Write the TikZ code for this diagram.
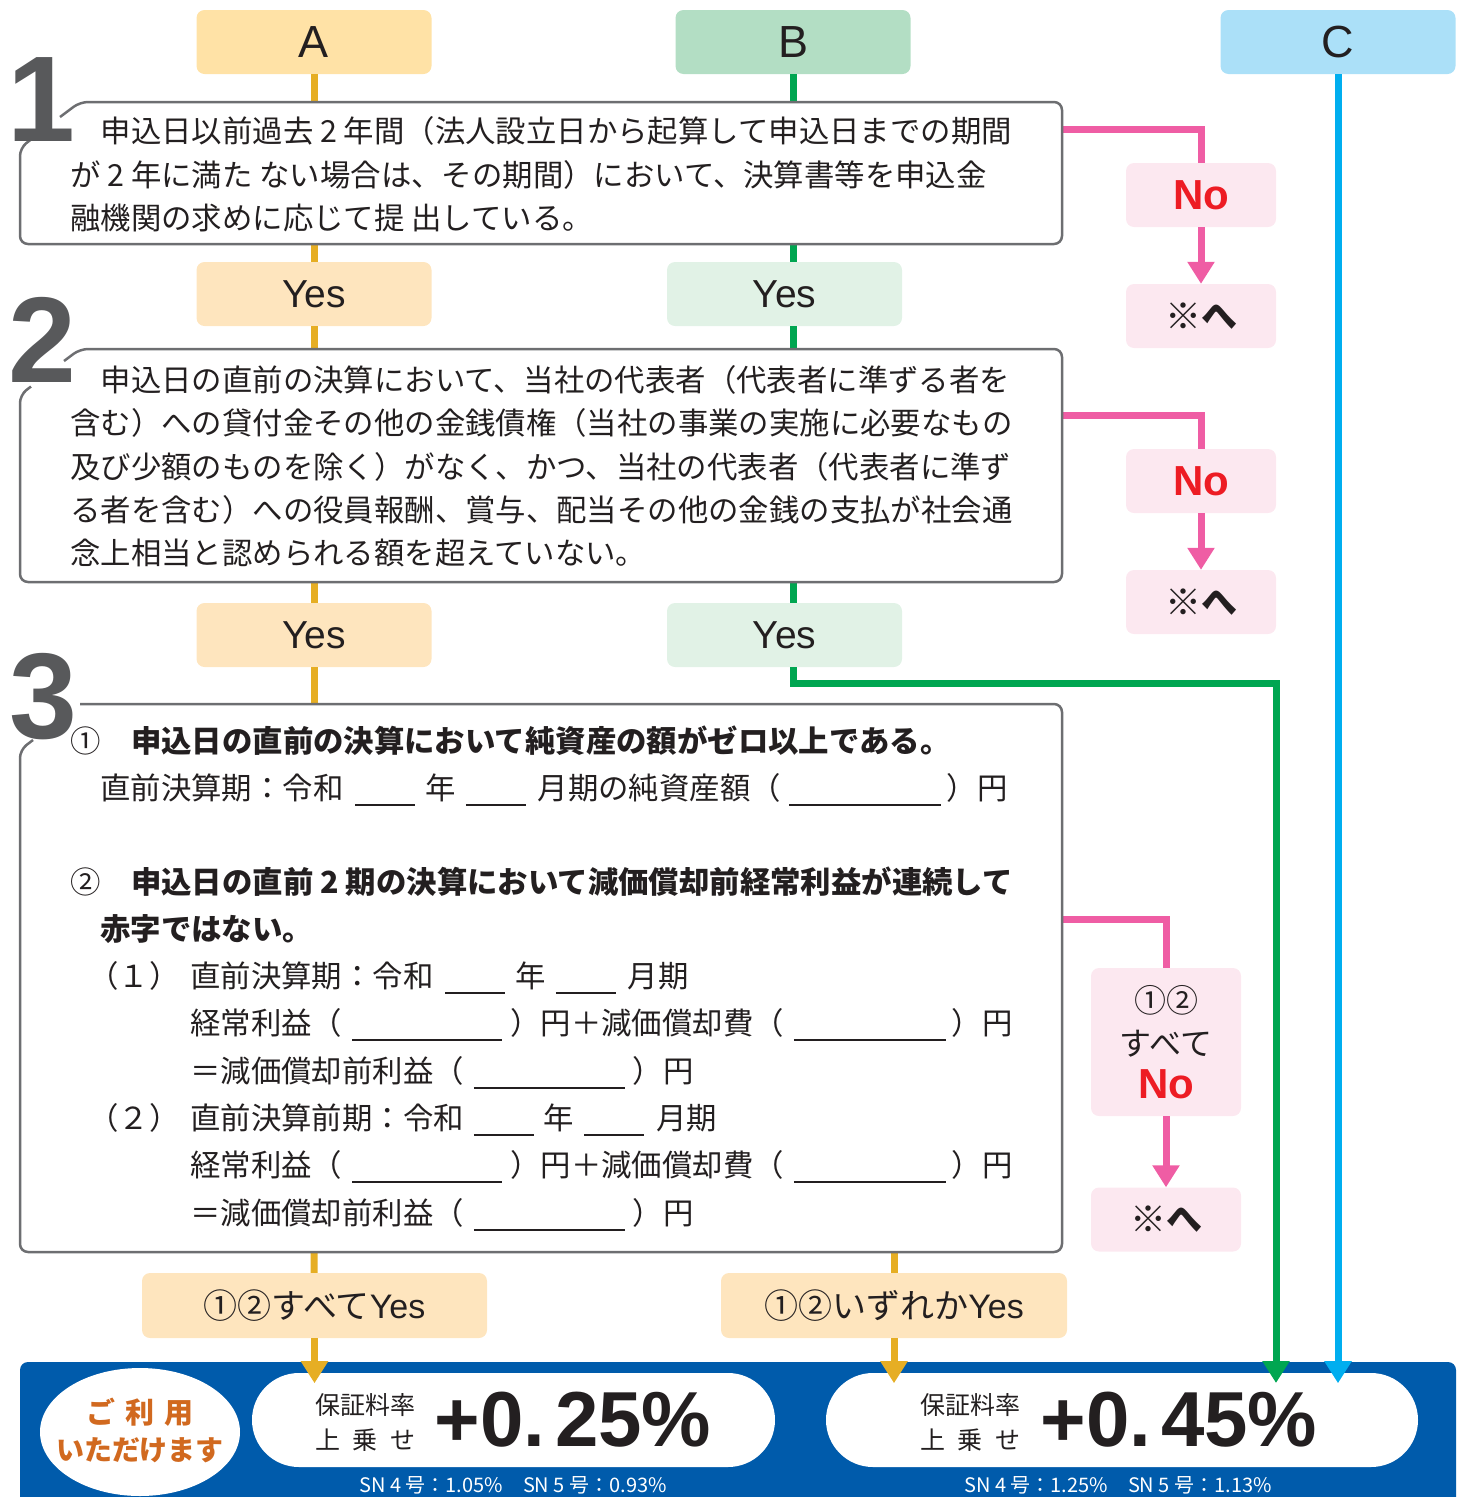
\documentclass[tikz,border=0pt]{standalone}
\usepackage{fontspec}
\setmainfont{Liberation Sans}
\newfontfamily\jp{Noto Sans CJK JP}
\usetikzlibrary{arrows.meta,shapes.geometric}

\definecolor{hdA}{HTML}{FFE2A6}
\definecolor{hdB}{HTML}{B3DEC4}
\definecolor{hdC}{HTML}{ABE0F8}
\definecolor{yesA}{HTML}{FEE5BE}
\definecolor{yesB}{HTML}{E1F2E6}
\definecolor{noBg}{HTML}{FCE8F0}
\definecolor{lnA}{HTML}{E6AE24}
\definecolor{lnB}{HTML}{00A651}
\definecolor{lnC}{HTML}{00AEEF}
\definecolor{lnNo}{HTML}{EF5DA4}
\definecolor{noRed}{HTML}{ED1C24}
\definecolor{bandBlue}{HTML}{005BAB}
\definecolor{numGray}{HTML}{58595B}
\definecolor{boxGray}{HTML}{6D6E71}
\definecolor{txt}{HTML}{231F20}
\definecolor{useOr}{HTML}{D1691F}

\newcommand{\fs}[1]{\fontsize{#1}{#1}\selectfont}
\newcommand{\blank}[1]{\rule[-7pt]{#1}{1.8pt}}

\tikzset{
  hbox/.style={rounded corners=8pt, minimum width=235pt, minimum height=64pt, inner sep=0pt, font=\fs{45}, text=txt},
  ybox/.style={rounded corners=8pt, minimum width=235pt, minimum height=64pt, inner sep=0pt, font=\fs{39}, text=txt},
  nbox/.style={fill=noBg, rounded corners=8pt, minimum width=150pt, minimum height=64pt, inner sep=0pt},
  qarea/.style={inner sep=0pt, minimum width=1042pt},
  qline/.style={draw=boxGray, line width=2.5pt, rounded corners=8pt},
  qtext/.style={anchor=base west, inner sep=0pt, font=\jp\fs{30.4}, text=txt},
  qbold/.style={qtext, font=\jp\bfseries\fs{30.4}},
  bignum/.style={anchor=base, inner sep=0pt, font=\bfseries\fs{122}, text=numGray},
  aline/.style={draw=lnA, line width=7pt},
  gline/.style={draw=lnB, line width=7pt},
  cline/.style={draw=lnC, line width=7pt},
  pline/.style={draw=lnNo, line width=7pt},
  tip/.style={-{Triangle[width=26pt,length=22pt]}},
  capsule/.style={fill=white, rounded corners=47pt, minimum height=94pt, inner sep=0pt},
}

\begin{document}
\begin{tikzpicture}[x=1pt,y=-1pt]
\useasboundingbox (0,0) rectangle (1464,1497);

% bottom band
\fill[bandBlue, rounded corners=8pt] (20,1510) -- (20,1362) -- (1456,1362) -- (1456,1510);
\node[ellipse, fill=white, minimum width=200pt, minimum height=128pt, inner sep=0pt] (use) at (140,1432) {};
\node[font=\jp\bfseries\fs{29}, text=useOr] (useA) at (140,1412) {\makebox[107pt][s]{ご\hfil 利\hfil 用}};
\node[font=\jp\bfseries\fs{28}, text=useOr] (useB) at (140,1450) {いただけます};
\node[capsule, minimum width=523pt] (cap1) at (513.5,1420) {};
\node[capsule, minimum width=592pt] (cap2) at (1122,1420) {};
\node[font=\jp\fs{25}, text=txt] (rate1) at (365,1405) {保証料率};
\node[font=\jp\fs{25}, text=txt] (up1) at (365,1440) {\makebox[100pt][s]{上\hfil 乗\hfil せ}};
\node[font=\bfseries\fs{78}, text=txt] (val1) at (573,1420) {+0.\hspace{10pt}25\%};
\node[font=\jp\fs{25}, text=txt] (rate2) at (970,1405) {保証料率};
\node[font=\jp\fs{25}, text=txt] (up2) at (970,1440) {\makebox[100pt][s]{上\hfil 乗\hfil せ}};
\node[font=\bfseries\fs{78}, text=txt] (val2) at (1179,1420) {+0.\hspace{10pt}45\%};
\node[font=\jp\fs{20}, text=white] (sn1) at (513,1485) {SN 4 号：1.05\%　SN 5 号：0.93\%};
\node[font=\jp\fs{20}, text=white] (sn2) at (1118,1485) {SN 4 号：1.25\%　SN 5 号：1.13\%};

% headers and yes boxes
\node[hbox, fill=hdA] (hA) at (314,42) {A};
\node[hbox, fill=hdB] (hB) at (793,42) {B};
\node[hbox, fill=hdC] (hC) at (1338,42) {C};
\node[ybox, fill=yesA] (yA1) at (314,294) {Yes};
\node[ybox, fill=yesB] (yB1) at (784.5,294) {Yes};
\node[ybox, fill=yesA] (yA2) at (314,635) {Yes};
\node[ybox, fill=yesB] (yB2) at (784.5,635) {Yes};
\node[ybox, fill=yesA, minimum width=345pt, minimum height=65pt, font=\jp\fs{34}] (yAll) at (314.5,1305.5) {①②すべて{\rmfamily Yes}};
\node[ybox, fill=yesA, minimum width=346pt, minimum height=65pt, font=\jp\fs{34}] (yAny) at (894,1305.5) {①②いずれか{\rmfamily Yes}};

% question areas
\node[qarea, minimum height=142pt] (q1) at (541,173) {};
\node[qarea, minimum height=233pt] (q2) at (541,465.5) {};
\node[qarea, minimum height=548pt] (q3) at (541,978) {};

% no boxes
\node[nbox, font=\bfseries\fs{42}, text=noRed] (no1) at (1201,195) {No};
\node[nbox, font=\jp\fs{36}, text=txt] (ref1) at (1201,316) {※{\bfseries へ}};
\node[nbox, font=\bfseries\fs{42}, text=noRed] (no2) at (1201,481) {No};
\node[nbox, font=\jp\fs{36}, text=txt] (ref2) at (1201,602) {※{\bfseries へ}};
\node[nbox, minimum height=148pt, align=center, font=\jp\fontsize{32}{43}\selectfont, text=txt] (no3) at (1166,1042)
  {①②\\すべて\\{\rmfamily\bfseries\color{noRed}\fontsize{42}{43}\selectfont No}};
\node[nbox, font=\jp\fs{36}, text=txt] (ref3) at (1166,1219.5) {※{\bfseries へ}};

% A line
\draw[aline] (hA) -- (hA |- q1.north);
\draw[aline] (hA |- q1.south) -- (yA1);
\draw[aline] (yA1) -- (yA1 |- q2.north);
\draw[aline] (yA1 |- q2.south) -- (yA2);
\draw[aline] (yA2) -- (yA2 |- q3.north);
\draw[aline] (yA2 |- q3.south) -- (yAll);
\draw[aline, tip] (yAll.south) -- ++(0,45);
\draw[aline] (yAny |- q3.south) -- (yAny);
\draw[aline, tip] (yAny.south) -- ++(0,45);

% B line
\coordinate (gturn) at (1276,683);
\draw[gline] (hB) -- (hB |- q1.north);
\draw[gline] (hB |- q1.south) -- (hB |- yB1.north);
\draw[gline] (hB |- yB1.south) -- (hB |- q2.north);
\draw[gline] (hB |- q2.south) -- (hB |- yB2.north);
\draw[gline, tip] (hB |- yB2.south) |- (gturn) -- ++(0,700);

% C line
\draw[cline, tip] (hC.south) -- ++(0,1309);

% No lines
\draw[pline] ([yshift=-28pt]q1.north east) -| (no1);
\draw[pline, tip] (no1) -- (ref1);
\draw[pline] ([yshift=-67pt]q2.north east) -| (no2);
\draw[pline, tip] (no2) -- (ref2);
\draw[pline] ([yshift=-216pt]q3.north east) -| (no3);
\draw[pline, tip] (no3) -- (ref3);

% question outlines
\draw[qline] (60,117) -- (80,102) -- (1062,102) -- (1062,244) -- (20,244) -- (20,148) -- (31,139.5);
\draw[qline] (64,361) -- (80,349) -- (1062,349) -- (1062,582) -- (20,582) -- (20,395) -- (31,386.5);
\draw[qline] (80,704) -- (1062,704) -- (1062,1252) -- (20,1252) -- (20,750) -- (33,740);
\node[bignum] (n1) at (41,141) {1};
\node[bignum] (n2) at (42,382) {2};
\node[bignum] (n3) at (43,738) {3};

% question 1
\node[qtext] (t1a) at (70,142) {　申込日以前過去 2 年間（法人設立日から起算して申込日までの期間};
\node[qtext] (t1b) at (70,186) {が 2 年に満た ない場合は、その期間）において、決算書等を申込金};
\node[qtext] (t1c) at (70,229) {融機関の求めに応じて提 出している。};

% question 2
\node[qtext] (t2a) at (70,391) {　申込日の直前の決算において、当社の代表者（代表者に準ずる者を};
\node[qtext] (t2b) at (70,434) {含む）への貸付金その他の金銭債権（当社の事業の実施に必要なもの};
\node[qtext] (t2c) at (70,478) {及び少額のものを除く）がなく、かつ、当社の代表者（代表者に準ず};
\node[qtext] (t2d) at (70,521) {る者を含む）への役員報酬、賞与、配当その他の金銭の支払が社会通};
\node[qtext] (t2e) at (70,564) {念上相当と認められる額を超えていない。};

% question 3
\node[qbold] (t3a) at (70,752) {{\mdseries ①}　申込日の直前の決算において純資産の額がゼロ以上である。};
\node[qtext] (t3b) at (100,799) {直前決算期：令和\hspace{12pt}\blank{60pt}\hspace{10pt}年\hspace{10pt}\blank{60pt}\hspace{12pt}月期の純資産額（\hspace{8pt}\blank{152pt}\hspace{6pt}）円};
\node[qbold] (t3c) at (70,893) {{\mdseries ②}　申込日の直前 2 期の決算において減価償却前経常利益が連続して};
\node[qbold] (t3d) at (100,940) {赤字ではない。};
\node[qtext] (t3e) at (88,987) {（１）};
\node[qtext] (t3f) at (190,987) {直前決算期：令和\hspace{12pt}\blank{60pt}\hspace{10pt}年\hspace{10pt}\blank{60pt}\hspace{12pt}月期};
\node[qtext] (t3g) at (190,1034) {経常利益（\hspace{10pt}\blank{150pt}\hspace{8pt}）円＋減価償却費（\hspace{10pt}\blank{152pt}\hspace{6pt}）円};
\node[qtext] (t3h) at (190,1082) {＝減価償却前利益（\hspace{10pt}\blank{151pt}\hspace{8pt}）円};
\node[qtext] (t3i) at (88,1129) {（２）};
\node[qtext] (t3j) at (190,1129) {直前決算前期：令和\hspace{10pt}\blank{60pt}\hspace{10pt}年\hspace{10pt}\blank{60pt}\hspace{12pt}月期};
\node[qtext] (t3k) at (190,1176) {経常利益（\hspace{10pt}\blank{150pt}\hspace{8pt}）円＋減価償却費（\hspace{10pt}\blank{152pt}\hspace{6pt}）円};
\node[qtext] (t3l) at (190,1224) {＝減価償却前利益（\hspace{10pt}\blank{151pt}\hspace{8pt}）円};
\end{tikzpicture}
\end{document}
